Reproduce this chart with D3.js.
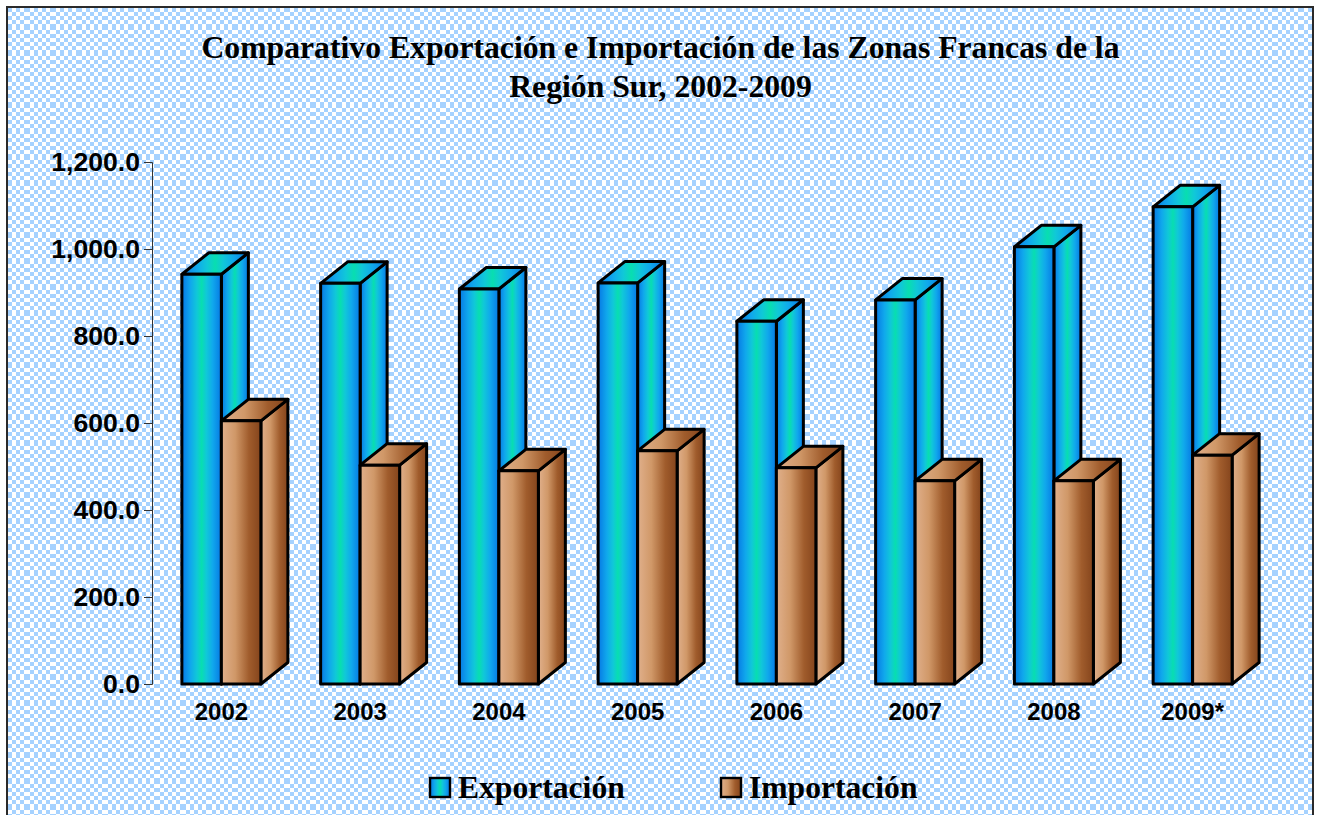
<!DOCTYPE html>
<html><head><meta charset="utf-8"><script src="https://cdn.jsdelivr.net/npm/d3@7"></script>
<style>html,body{margin:0;padding:0;background:#fff;overflow:hidden}svg{display:block}</style></head>
<body><div id="c"></div>
<script>
const categories=["2002","2003","2004","2005","2006","2007","2008","2009*"];
const exportacion=[942,921,908,922,834,883,1005,1097];
const importacion=[605,503,490,536,497,467,467,526];
const yTicks=[0,200,400,600,800,1000,1200];
const titleLines=["Comparativo Exportación e Importación de las Zonas Francas de la","Región Sur, 2002-2009"];
const seriesNames=["Exportación","Importación"];

const W=1317,H=815,dx=27,dy=21.5;
const svg=d3.select("#c").append("svg").attr("width",W).attr("height",H);
const defs=svg.append("defs");
function grad(id,stops){const g=defs.append("linearGradient").attr("id",id);
  stops.forEach(([o,c])=>g.append("stop").attr("offset",o).attr("stop-color",c));}
grad("gE",[[0,"#0678e4"],[.22,"#10a8ec"],[.38,"#10c8d8"],[.5,"#08deb0"],[.62,"#10c8d8"],[.78,"#10a8ec"],[1,"#0678e4"]]);
grad("gI",[[0,"#e0b08c"],[.35,"#d09868"],[.7,"#a05c2c"],[1,"#84441c"]]);
const bands=[4,4,4,4,6,4];
const tile=d3.sum(bands);
const p=defs.append("pattern").attr("id","weave").attr("width",tile).attr("height",tile).attr("patternUnits","userSpaceOnUse").attr("x",8).attr("y",8);
p.append("rect").attr("width",tile).attr("height",tile).attr("fill","#a6d2ff");
let py=0;
bands.forEach((bh,j)=>{let px=0;
  bands.forEach((bw,i)=>{
    if((i+j)%2===1)p.append("rect").attr("x",px).attr("y",py).attr("width",bw).attr("height",bh).attr("fill","#fff");
    px+=bw;});
  py+=bh;});
svg.append("rect").attr("x",7).attr("y",7).attr("width",1306).attr("height",830).attr("fill","url(#weave)").attr("stroke","#2a2a2a").attr("stroke-width",2);

const x=d3.scaleBand().domain(categories).range([152,1262]);
const y=d3.scaleLinear().domain([0,1200]).range([684,162]);
const barW=39.5;
const yAxis=d3.axisLeft(y).tickValues(yTicks).tickFormat(d3.format(",.1f")).tickSize(8).tickPadding(4);
const ga=svg.append("g").attr("transform","translate(152,0)").call(yAxis);
ga.selectAll("path,line").attr("stroke","#333").attr("stroke-width",1);
ga.selectAll("text").attr("font-family","Liberation Sans").attr("font-weight","bold").attr("font-size",26.6).attr("fill","#000");
const gx=svg.append("g").attr("transform","translate(0,684)").call(d3.axisBottom(x).tickSize(0).tickPadding(19));
gx.select("path").remove();
gx.selectAll("text").attr("font-family","Liberation Sans").attr("font-weight","bold").attr("font-size",24).attr("fill","#000");

function bar(g,x0,val,fill){
  const t=y(val),b=y(0),x1=x0+barW;
  const st={stroke:"#000","stroke-width":3,"stroke-linejoin":"round"};
  const poly=(pts,f)=>{const e=g.append("polygon").attr("points",pts.join(" ")).attr("fill",f);
    Object.entries(st).forEach(([k,v])=>e.attr(k,v));};
  poly([[x1,b],[x1+dx,b-dy],[x1+dx,t-dy],[x1,t]],fill);
  poly([[x0,t],[x0+dx,t-dy],[x1+dx,t-dy],[x1,t]],fill);
  poly([[x0,b],[x0,t],[x1,t],[x1,b]],fill);
}
const bars=svg.append("g");
categories.forEach((c,i)=>{
  const cx=x(c)+x.bandwidth()/2;
  bar(bars,cx-barW,exportacion[i],"url(#gE)");
  bar(bars,cx,importacion[i],"url(#gI)");
});
titleLines.forEach((t,i)=>svg.append("text").text(t).attr("x",660.5).attr("y",[58,97][i]).attr("text-anchor","middle")
  .attr("font-family","Liberation Serif").attr("font-weight","bold").attr("font-size",31.7).attr("fill","#000"));
const lx=[429,720],gid=["url(#gE)","url(#gI)"];
seriesNames.forEach((n,i)=>{
  svg.append("rect").attr("x",lx[i]+1).attr("y",778).attr("width",20).attr("height",19).attr("fill",gid[i]).attr("stroke","#000").attr("stroke-width",2.4);
  svg.append("text").text(n).attr("x",lx[i]+29).attr("y",798).attr("font-family","Liberation Serif").attr("font-weight","bold").attr("font-size",31.6).attr("fill","#000");
});
</script></body></html>
